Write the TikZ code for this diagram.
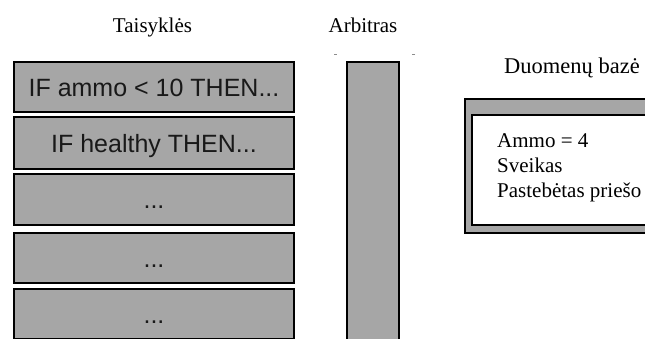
\documentclass[tikz,border=0pt]{standalone}
\usepackage{fontspec}
\setmainfont{Liberation Serif}
\newfontfamily\boxfont{Liberation Sans}
\usepackage{tikz}
\usetikzlibrary{positioning}

\tikzset{
	rulebox/.style={draw=black, line width=1.5pt, fill=black!35, minimum width=280pt, minimum height=50pt, inner sep=0pt, text height=18pt, text depth=0pt, font=\boxfont\fontsize{25}{25}\selectfont, text=black!90},
	arbcol/.style={draw=black, line width=1.5pt, fill=black!35, minimum width=52pt, minimum height=300pt, inner sep=0pt},
	title/.style={anchor=base, font=\fontsize{21}{25}\selectfont, inner sep=0pt},
	dbline/.style={anchor=base west, font=\fontsize{21}{25}\selectfont, inner sep=0pt},
	tick/.style={draw=black!45, line width=1pt}
}

\begin{document}
\begin{tikzpicture}[x=1pt, y=-1pt]
	\useasboundingbox (0, 0) rectangle (645, 338);
	\clip (0, 0) rectangle (645, 338);
	% Titles:
	\node[title] (taisykles) at (152.5, 32){Taisyklės};
	\node[title] (arbitras) at (363, 32){Arbitras};
	\node[title, font=\fontsize{22.5}{25}\selectfont] (duomenys) at (572, 73){Duomenų bazė};
	% Rules:
	\node[rulebox] (r1) at (154, 87){IF ammo < 10 THEN...};
	\node[rulebox, minimum height=52pt] (r2) at (154, 143){IF healthy THEN...};
	\node[rulebox, minimum height=51pt] (r3) at (154, 199.5){...};
	\node[rulebox] (r4) at (154, 258){...};
	\node[rulebox] (r5) at (154, 314){...};
	% Arbiter column and its marks:
	\node[arbcol] (arb) at (373, 212){};
	\coordinate (markl) at (334, 54);
	\coordinate (markr) at (415, 54);
	\draw[tick] (markl) -- ++(3, 0);
	\draw[tick] (markr) -- ++(-3, 0);
	% Database:
	\node[draw=black, line width=1.5pt, fill=black!35, minimum width=200pt, minimum height=134pt, inner sep=0pt] (dbout) at (565, 166){};
	\node[draw=black, line width=2pt, fill=white, minimum width=200pt, minimum height=110pt, inner sep=0pt] (dbin) at (572, 170){};
	\node[dbline] (ammo) at (497, 147){Ammo = 4};
	\node[dbline] (sveikas) at (497, 172){Sveikas};
	\node[dbline] (priesas) at (497, 197){Pastebėtas priešo};
\end{tikzpicture}
\end{document}
